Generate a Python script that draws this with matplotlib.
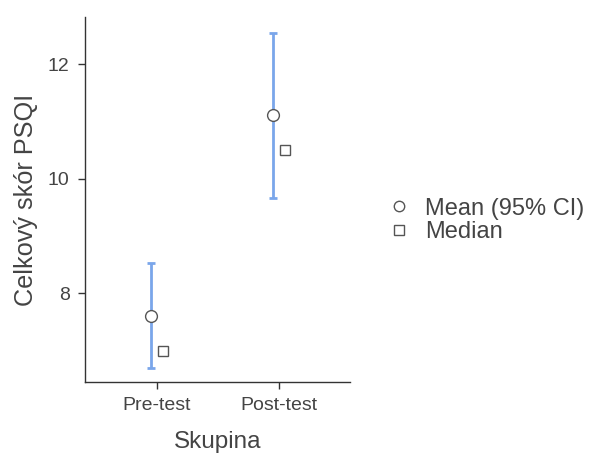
import matplotlib
matplotlib.use("Agg")
import matplotlib.pyplot as plt
from matplotlib.lines import Line2D

# Data
groups = ["Pre-test", "Post-test"]
means = [7.61, 11.11]
ci_low = [6.69, 9.66]
ci_high = [8.54, 12.55]
medians = [7.0, 10.5]

plt.rcParams["font.family"] = ["Liberation Sans", "DejaVu Sans"]
text_col = "#444444"
axis_col = "#333333"
bar_col = "#7aa6ea"

fig = plt.figure(figsize=(5.9, 4.55), dpi=100)
ax = fig.add_axes([0.144, 0.160, 0.449, 0.803])

x = list(range(len(groups)))
off = 0.05
xm = [v - off for v in x]
xd = [v + off for v in x]
yerr = [[m - lo for m, lo in zip(means, ci_low)],
        [hi - m for m, hi in zip(means, ci_high)]]

ax.errorbar(xm, means, yerr=yerr, fmt="none", ecolor=bar_col,
            elinewidth=2.0, capsize=2.8, capthick=2.0, zorder=2)
ax.plot(xm, means, "o", ms=8.5, mfc="white", mec="#555555", mew=1.0,
        linestyle="none", zorder=3)
ax.plot(xd, medians, "s", ms=7, mfc="white", mec="#555555", mew=1.0,
        linestyle="none", zorder=3)

ax.set_xlim(-0.59, 1.58)
ax.set_ylim(6.45, 12.83)
ax.set_xticks(x)
ax.set_xticklabels(groups)
ax.set_yticks([8, 10, 12])

for s in ["top", "right"]:
    ax.spines[s].set_visible(False)
for s in ["left", "bottom"]:
    ax.spines[s].set_color(axis_col)
    ax.spines[s].set_linewidth(1.0)

ax.tick_params(axis="both", colors=axis_col, labelcolor=text_col,
               labelsize=14, length=5, width=1.0, pad=6)

ax.set_xlabel("Skupina", fontsize=17.5, color=text_col, labelpad=12)
ax.set_ylabel("Celkový skór PSQI", fontsize=18.2, color=text_col, labelpad=7)

handles = [
    Line2D([], [], marker="o", ls="none", ms=7.5, mfc="white", mec="#555555", mew=1.0),
    Line2D([], [], marker="s", ls="none", ms=6.5, mfc="white", mec="#555555", mew=1.0),
]
fig.legend(handles, ["Mean (95% CI)", "Median"], loc="center left",
           bbox_to_anchor=(0.621, 0.516), frameon=False, fontsize=17,
           labelcolor=text_col, handlelength=1.0, handletextpad=0.6,
           labelspacing=0.05)

fig.savefig("out.png", dpi=100)
